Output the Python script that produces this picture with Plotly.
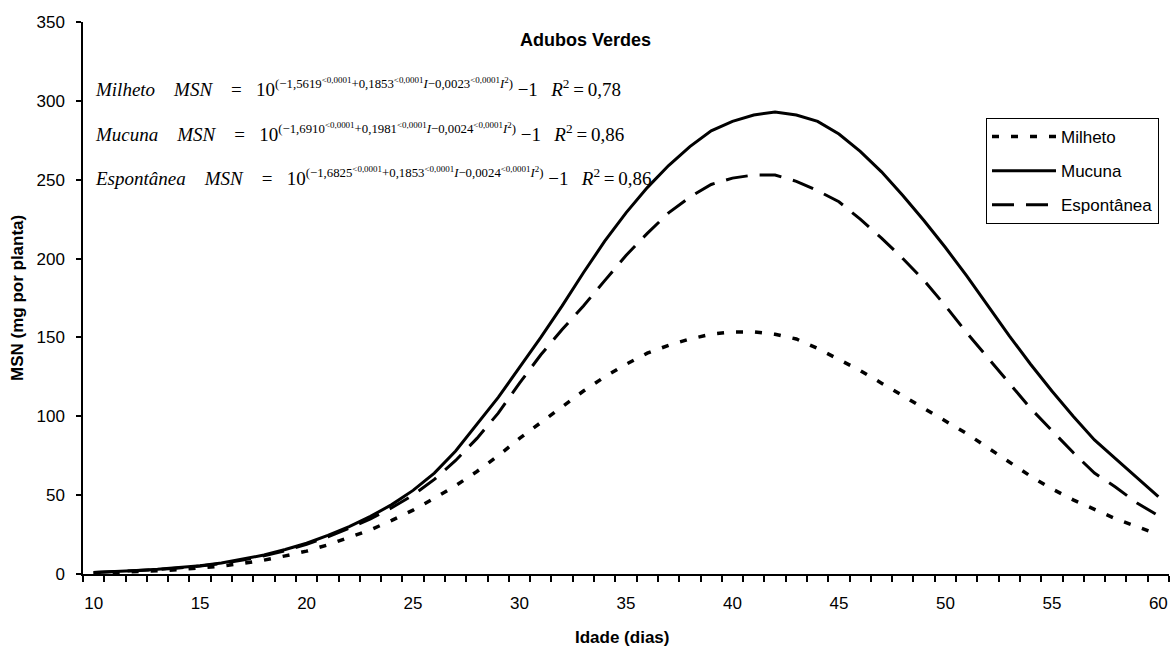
import plotly.graph_objects as go

# ---------------- data ----------------
dias = list(range(10, 61))

milheto = [0.5, 0.9, 1.4, 2.0, 2.8, 3.8, 5.0, 6.7, 8.8, 11.5, 14.5,
           18.5, 23, 28, 34, 40.5, 48, 56, 65, 75, 86,
           96, 106, 116, 125, 133, 140, 145, 149, 152, 153.5,
           153.5, 152, 149, 143, 136, 129, 121, 113, 105, 97,
           89, 80, 71, 62, 54, 47, 41, 35, 30, 25]

mucuna = [1.0, 1.5, 2.2, 3.0, 4.0, 5.2, 7.0, 9.3, 12.0, 15.5, 19.5,
          24.5, 30, 36.5, 44, 53, 64, 78, 95, 112, 131,
          150, 170, 191, 211, 229, 245, 259, 271, 281, 287,
          291, 293, 291, 287, 279, 268, 255, 240, 224, 207,
          189, 170, 151, 133, 116, 100, 85, 73, 61, 49]

espontanea = [0.9, 1.4, 2.0, 2.8, 3.8, 5.0, 6.7, 8.8, 11.5, 14.8, 18.8,
              23.5, 29, 35, 42, 50, 60, 72, 86, 102, 121,
              139, 155, 170, 186, 202, 216, 229, 239, 247, 251,
              253, 253, 249, 243, 236, 225, 213, 200, 186, 170,
              153, 137, 121, 105, 91, 77, 64, 55, 45, 37]

series_names = ["Milheto", "Mucuna", "Espontânea"]
x_ticks = [10, 15, 20, 25, 30, 35, 40, 45, 50, 55, 60]
y_ticks = [0, 50, 100, 150, 200, 250, 300, 350]

eq_coefs = [("-1,5619", "0,1853", "0,0023", "0,78"),
            ("-1,6910", "0,1981", "0,0024", "0,86"),
            ("-1,6825", "0,1853", "0,0024", "0,86")]

# ---------------- layout constants ----------------
W, H = 1171, 653
L, R, T, B = 83, 2, 22, 79
PW, PH = W - L - R, H - T - B


def px_x(px):
    return (px - L) / PW


def px_y(py):
    return (H - B - py) / PH


SANS = "Liberation Sans, Arial, sans-serif"
SERIF = "Liberation Serif, Times New Roman, serif"

fig = go.Figure()
styles = [dict(dash="7px,12px", width=3.5),
          dict(dash="solid", width=3),
          dict(dash="22px,12px", width=3)]
for name, vals, st in zip(series_names, [milheto, mucuna, espontanea], styles):
    fig.add_trace(go.Scatter(x=dias, y=vals, mode="lines", name=name,
                             legendgroup=name,
                             line=dict(color="black", width=st["width"], dash=st["dash"])))

# equations
NB = "\u00a0"
TH = "\u2009"
annots = []
row_y = [88, 132, 176]
for name, (a, b, c, r2), ry in zip(series_names, eq_coefs, row_y):
    sm = "<sup>&lt;0,0001</sup>"
    a_txt = a.replace("-", "\u2212")
    expo = (f"<span style='font-size:12.8px'>({a_txt}{sm}+{b}{sm}<i>I</i>"
            f"\u2212{c}{sm}<i>I</i><sup>2</sup>)</span>")
    txt = (f"<i>{name}</i>{NB*4}<i>MSN</i>{NB*4}={NB*3}10"
           f"<sup>{expo}</sup>"
           f"{NB}\u22121{NB*2}{TH}<i>R</i><sup>2</sup>{TH}={TH}{r2}")
    annots.append(dict(text=txt, xref="paper", yref="paper", x=px_x(93), y=px_y(ry),
                       xanchor="left", yanchor="middle", showarrow=False,
                       font=dict(family=SERIF, size=19, color="black")))

annots.append(dict(text="<b>Adubos Verdes</b>", xref="paper", yref="paper",
                   x=px_x(585), y=px_y(40), xanchor="center", yanchor="middle",
                   showarrow=False, font=dict(family=SANS, size=18, color="black")))
annots.append(dict(text="<b>Idade (dias)</b>", xref="paper", yref="paper",
                   x=px_x(622), y=px_y(637), xanchor="center", yanchor="middle",
                   showarrow=False, font=dict(family=SANS, size=17, color="black")))
annots.append(dict(text="<b>MSN (mg por planta)</b>", xref="paper", yref="paper",
                   x=px_x(17), y=px_y(298), xanchor="center", yanchor="middle",
                   textangle=-90, showarrow=False,
                   font=dict(family=SANS, size=17, color="black")))

fig.update_layout(
    width=W, height=H,
    margin=dict(l=L, r=R, t=T, b=B, pad=0, autoexpand=False),
    paper_bgcolor="white", plot_bgcolor="white",
    font=dict(family=SANS, size=17, color="black"),
    showlegend=True,
    legend=dict(x=px_x(986), y=px_y(118), xanchor="left", yanchor="top",
                bordercolor="black", borderwidth=1, bgcolor="white",
                font=dict(family=SANS, size=17, color="black"),
                tracegroupgap=9, itemwidth=64),
    annotations=annots,
    xaxis=dict(range=[9.5, 60.5], tickmode="array", tickvals=x_ticks,
               ticktext=[str(v) for v in x_ticks], ticks="", showgrid=False,
               zeroline=False, showline=True, linecolor="black", linewidth=1.5,
               ticklabelstandoff=13, automargin=False,
               tickfont=dict(family=SANS, size=17, color="black"),
               minor=dict(tickmode="linear", tick0=9.5, dtick=1, ticks="outside",
                          ticklen=6, tickcolor="black", tickwidth=1.5, showgrid=False)),
    yaxis=dict(range=[0, 350], tickmode="array", tickvals=y_ticks, ticks="outside",
               ticklen=5, tickcolor="black", tickwidth=1.5, showgrid=False,
               zeroline=False, showline=True, linecolor="black", linewidth=1.5,
               ticklabelstandoff=8, automargin=False,
               tickfont=dict(family=SANS, size=17, color="black")),
)

fig.write_html("out.html",
               config={"displayModeBar": False},
               post_script="document.body.style.margin='0';document.body.style.overflow='hidden';")
